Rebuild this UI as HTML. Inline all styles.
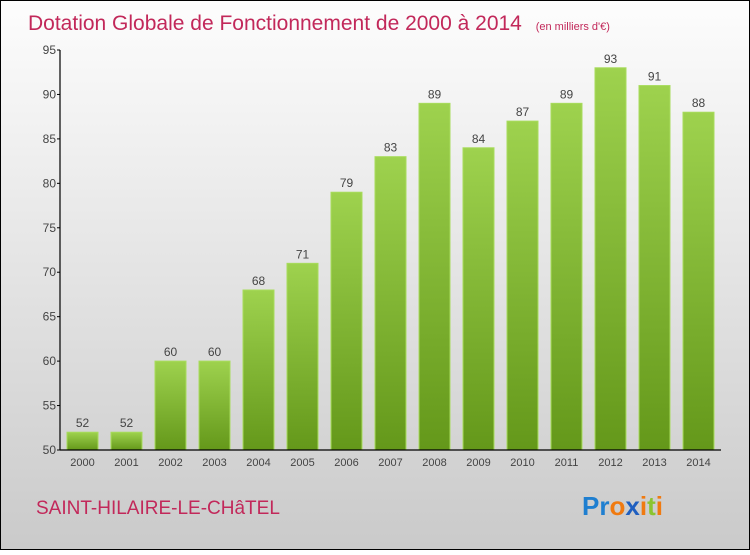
<!DOCTYPE html>
<html><head><meta charset="utf-8"><style>
html,body{margin:0;padding:0;}
body{width:750px;height:550px;overflow:hidden;font-family:"Liberation Sans",sans-serif;}
</style></head><body>
<svg id="c" width="750" height="550" xmlns="http://www.w3.org/2000/svg">
<defs>
<linearGradient id="bg" x1="0" y1="0" x2="0" y2="1"><stop offset="0" stop-color="#fdfdfd"/><stop offset="1" stop-color="#cacaca"/></linearGradient>
<linearGradient id="bar" x1="0" y1="0" x2="0" y2="1"><stop offset="0" stop-color="#9ed24e"/><stop offset="1" stop-color="#64981a"/></linearGradient>
</defs>
<rect x="0.5" y="0.5" width="749" height="549" fill="url(#bg)" stroke="#000"/>
<text x="28" y="30" font-size="21" fill="#c2285a">Dotation Globale de Fonctionnement de 2000 à 2014 <tspan font-size="11" dx="8">(en milliers d'€)</tspan></text>
<g id="plot"></g>
<text x="36" y="514" font-size="19" fill="#c2285a">SAINT-HILAIRE-LE-CHâTEL</text>
<text x="582" y="515" font-size="26" font-weight="bold"><tspan fill="#1f7fd0">Pr</tspan><tspan fill="#f07a10">o</tspan><tspan fill="#1f5fc0">x</tspan><tspan fill="#f07a10">i</tspan><tspan fill="#8bc430">t</tspan><tspan fill="#f07a10">i</tspan></text>
</svg>
<script>
const years=["2000","2001","2002","2003","2004","2005","2006","2007","2008","2009","2010","2011","2012","2013","2014"];
const values=[52,52,60,60,68,71,79,83,89,84,87,89,93,91,88];
const yTicks=[50,55,60,65,70,75,80,85,90,95];
const NS="http://www.w3.org/2000/svg";
const g=document.getElementById('plot');
const x0=60,x1=721,yB=450,yT=50,vMin=50,vMax=95;
const y=v=>yB-(v-vMin)/(vMax-vMin)*(yB-yT);
const step=44,first=82.5,bw=31;
const xc=i=>first+i*step;
function el(t,a){const e=document.createElementNS(NS,t);for(const k in a)e.setAttribute(k,a[k]);g.appendChild(e);return e;}
values.forEach((v,i)=>{
 const r=el('rect',{x:xc(i)-bw/2,y:y(v),width:bw,height:yB-y(v),fill:'url(#bar)',stroke:'#a8dc5c','stroke-width':1});
 
 
 const t=el('text',{x:xc(i),y:y(v)-5,'text-anchor':'middle','font-size':12,fill:'#444'});
 t.textContent=v;
 
 
 const xl=el('text',{x:xc(i),y:466,'text-anchor':'middle','font-size':11,fill:'#444'});
 xl.textContent=years[i];
 
 
});
yTicks.forEach(v=>{
 el('line',{x1:x0-3,x2:x0,y1:y(v),y2:y(v),stroke:'#000'});
 const t=el('text',{x:x0-4,y:y(v)+4,'text-anchor':'end','font-size':12,fill:'#444'});
 t.textContent=v;
 
 
});
const ya=el('line',{x1:x0,x2:x0,y1:yT,y2:yB,stroke:'#000','stroke-width':1.2});


const xa=el('line',{x1:x0,x2:x1,y1:yB,y2:yB,stroke:'#000','stroke-width':1.2});


</script>
</body></html>
